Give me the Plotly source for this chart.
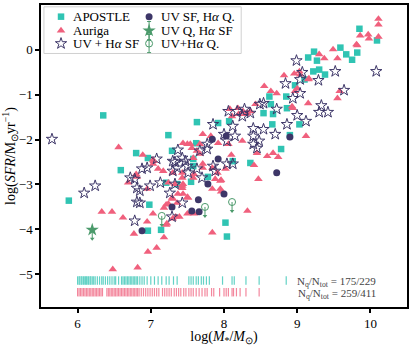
import plotly.graph_objects as go

# APOSTLE simulated galaxies: log stellar mass, log SFR
apostle_mass = [6.35, 7.24, 6.80, 6.96, 7.29, 7.63, 6.59, 5.88, 6.98, 7.14, 6.96, 7.36,
                7.55, 7.21, 8.36, 8.02, 8.04, 7.58, 7.58, 7.78, 7.62, 7.92, 8.07, 8.12,
                9.15, 9.23, 9.27, 9.59, 9.67, 9.75, 9.82, 9.22, 9.30, 9.38, 9.10, 8.97,
                8.85, 8.62, 8.64, 8.67, 8.66, 8.86, 9.03, 8.90, 8.78, 9.85, 10.09, 8.54]
apostle_sfr = [-1.46, -1.90, -2.30, -2.41, -2.25, -1.61, -2.68, -3.36, -3.45, -4.01, -4.03, -2.99,
               -2.94, -2.96, -2.52, -3.85, -4.16, -2.59, -2.43, -2.83, -2.08, -1.63, -1.59, -2.48,
               -0.17, -0.04, -0.24, 0.05, -0.10, -0.22, -0.06, -0.48, -0.44, -0.55, -0.66, -0.79,
               -1.04, -1.04, -1.21, -1.43, -1.66, -1.30, -1.66, -1.90, -2.21, 0.47, 0.21, -1.41]

# Auriga simulated galaxies
auriga_mass = [6.56, 6.89, 7.04, 7.10, 7.17, 7.54, 7.58, 7.71, 6.80, 6.69, 6.95, 6.33,
               6.47, 6.62, 6.95, 7.03, 7.18, 7.21, 7.30, 7.36, 7.22, 7.34, 6.77, 7.18,
               7.24, 6.82, 6.48, 6.96, 7.08, 7.21, 6.81, 7.29, 7.43, 7.43, 7.50, 7.50,
               7.03, 7.30, 7.39, 7.44, 7.51, 7.59, 7.84, 7.84, 7.95, 7.96, 8.32, 8.47,
               8.41, 8.59, 8.67, 8.74, 8.45, 7.91, 7.71, 7.44, 7.33, 7.63, 7.58, 8.10,
               7.96, 7.88, 7.30, 7.43, 7.44, 7.50, 7.56, 7.71, 7.82, 7.92, 8.06, 7.84,
               7.95, 7.37, 7.43, 7.24, 7.67, 8.02, 8.08, 8.11, 8.43, 8.19, 8.29, 8.25,
               8.55, 8.64, 8.72, 8.82, 8.96, 9.04, 9.16, 8.97, 8.93, 9.15, 9.12, 8.32,
               9.30, 9.37, 9.49, 9.55, 9.82, 9.58, 9.55, 10.11, 10.11, 9.86, 9.97, 9.98,
               10.11, 9.81, 9.15, 9.03, 9.00, 8.26, 8.94, 8.36, 7.03, 7.67, 7.59, 8.20]
auriga_sfr = [-2.17, -2.34, -2.48, -2.65, -2.70, -2.10, -2.41, -2.63, -2.77, -2.96, -3.10, -3.61,
              -3.61, -3.74, -3.83, -3.65, -3.52, -3.45, -3.32, -3.41, -3.87, -3.72, -4.10, -4.18,
              -2.96, -4.85, -4.89, -4.50, -4.41, -3.90, -2.83, -3.30, -3.08, -2.85, -3.28, -3.65,
              -2.54, -3.76, -3.72, -3.21, -3.30, -3.65, -4.07, -3.10, -3.10, -2.90, -3.59, -2.88,
              -2.57, -2.37, -2.30, -2.39, -2.30, -2.74, -2.54, -2.99, -2.99, -2.25, -2.85, -2.34,
              -3.16, -2.88, -2.74, -2.74, -2.08, -2.10, -2.19, -1.88, -1.92, -2.08, -2.10, -2.63,
              -2.92, -3.21, -3.03, -3.43, -2.32, -2.65, -1.32, -1.48, -1.21, -1.30, -1.43, -2.03,
              -0.81, -0.92, -0.97, -0.57, -0.53, -0.55, -0.64, -0.92, -1.26, -1.19, -1.92, -1.41,
              -0.10, -0.19, 0.01, -0.19, 0.10, -0.92, -1.08, 0.69, 0.56, 0.32, 0.34, 0.25,
              0.29, 0.12, -0.66, -0.48, -0.86, -1.37, -1.30, -1.37, -2.45, -2.10, -2.77, -1.43]

# observed: star forming in UV and H-alpha
uvha_sf_mass = [5.65, 6.09, 6.24, 6.78, 6.81, 6.85, 7.29, 7.08, 6.88, 6.95, 6.72, 6.78,
                6.81, 6.85, 6.99, 7.13, 7.26, 7.30, 7.33, 7.37, 7.43, 7.30, 7.43, 7.50,
                7.63, 7.51, 7.70, 7.33, 8.04, 8.12, 7.85, 7.85, 8.06, 7.88, 7.77, 7.47,
                8.15, 8.00, 8.28, 8.49, 8.40, 8.45, 7.77, 8.04, 8.99, 9.07, 9.04, 9.29,
                9.52, 9.64, 9.33, 9.42, 9.30, 9.12, 8.86, 9.00, 8.94, 9.04, 8.84, 8.54,
                8.72, 8.70, 8.54, 8.40, 8.40, 8.25, 8.36, 8.12, 10.08, 8.48, 8.18, 7.67,
                7.36]
uvha_sf_sfr = [-1.99, -3.19, -3.03, -3.81, -3.39, -3.41, -3.72, -2.43, -2.65, -2.63, -2.85, -2.88,
               -3.08, -3.14, -3.03, -2.96, -3.19, -2.70, -2.50, -2.23, -3.41, -2.48, -2.41, -2.59,
               -2.65, -2.74, -2.85, -2.99, -2.54, -2.54, -2.59, -1.66, -1.37, -2.70, -2.10, -2.48,
               -1.92, -1.88, -1.32, -1.21, -1.92, -2.19, -2.21, -2.03, -0.24, -0.50, -0.66, -0.68,
               -0.48, -0.90, -1.24, -1.39, -1.39, -1.59, -1.66, -1.46, -1.08, -0.97, -0.75, -1.19,
               -1.32, -1.88, -1.77, -1.75, -2.10, -1.48, -1.41, -1.70, -0.48, -2.03, -1.37, -2.25,
               -2.63]

# observed: UV star forming, H-alpha quenched
uvsf_haq_mass = [6.88, 7.29, 7.56, 7.66, 7.65, 7.78, 8.00, 7.92, 7.84, 8.03, 8.72, 8.90]
uvsf_haq_sfr = [-4.03, -3.50, -3.59, -3.61, -3.34, -2.99, -3.21, -2.43, -1.99, -1.92, -2.74, -1.94]

# observed: UV quenched, H-alpha star forming (upper limit)
uvq_hasf_mass = [6.20]
uvq_hasf_sfr = [-4.01]

# observed: quenched in both (upper limits)
uvha_q_mass = [7.15, 7.74, 8.11]
uvha_q_sfr = [-3.70, -3.50, -3.39]

# stellar masses of quenched simulated galaxies (rugs along the bottom)
apostle_q_mass = [6.00, 6.02, 6.03, 6.05, 6.06, 6.08, 6.09, 6.11, 6.12, 6.14, 6.15, 6.17,
                  6.18, 6.20, 6.22, 6.24, 6.27, 6.30, 6.33, 6.35, 6.38, 6.41, 6.44, 6.47,
                  6.50, 6.52, 6.56, 6.60, 6.62, 6.64, 6.66, 6.68, 6.70, 6.72, 6.74, 6.76,
                  6.78, 6.80, 6.82, 6.85, 6.88, 6.91, 6.95, 7.00, 7.05, 7.10, 7.15, 7.21,
                  7.25, 7.31, 7.36, 7.52, 7.55, 7.58, 7.62, 7.65, 7.69, 7.72, 7.76, 7.80,
                  7.98, 8.11, 8.14, 8.30, 8.48, 8.85]
auriga_q_mass = [6.00, 6.02, 6.04, 6.06, 6.08, 6.10, 6.12, 6.14, 6.16, 6.18, 6.20, 6.22,
                 6.24, 6.26, 6.28, 6.30, 6.32, 6.34, 6.40, 6.42, 6.44, 6.46, 6.48, 6.50,
                 6.52, 6.54, 6.56, 6.58, 6.60, 6.62, 6.64, 6.66, 6.68, 6.70, 6.72, 6.74,
                 6.76, 6.78, 6.80, 6.82, 6.84, 6.87, 6.90, 6.93, 6.96, 6.99, 7.02, 7.05,
                 7.08, 7.11, 7.16, 7.19, 7.22, 7.25, 7.28, 7.32, 7.35, 7.38, 7.41, 7.45,
                 7.48, 7.52, 7.55, 7.58, 7.62, 7.66, 7.70, 7.74, 7.77, 7.83, 7.86, 7.94,
                 8.00, 8.03, 8.06, 8.11, 8.13, 8.17, 8.22, 8.30, 8.48]

apostle_counts = (175, 229)
auriga_counts = (259, 411)

TEAL = "#30c4b3"
PINK = "#f0607d"
PURPLE = "#3d3668"
GREEN = "#4b9a6b"
FONT = "Liberation Serif"
LIMIT = 0.2  # length of upper-limit arrows in dex

# marker styles, shared by the data and the legend keys
styles = {
    "APOSTLE": dict(symbol="square", size=6.5, color=TEAL),
    "Auriga": dict(symbol="triangle-up", size=7.5, color=PINK),
    "UV + H<i>α</i> SF": dict(symbol="star-open", size=8.5, color=PURPLE, line=dict(width=1)),
    "UV SF, H<i>α</i> Q.": dict(symbol="circle", size=7, color=PURPLE),
    "UV Q, H<i>α</i> SF": dict(symbol="star", size=10, color=GREEN),
    "UV+H<i>α</i> Q.": dict(symbol="circle-open", size=7, color=GREEN, line=dict(width=1)),
}
limit_names = ["UV Q, H<i>α</i> SF", "UV+H<i>α</i> Q."]

fig = go.Figure()

series = [
    ("APOSTLE", apostle_mass, apostle_sfr),
    ("Auriga", auriga_mass, auriga_sfr),
    ("UV + H<i>α</i> SF", uvha_sf_mass, uvha_sf_sfr),
    ("UV SF, H<i>α</i> Q.", uvsf_haq_mass, uvsf_haq_sfr),
    ("UV Q, H<i>α</i> SF", uvq_hasf_mass, uvq_hasf_sfr),
    ("UV+H<i>α</i> Q.", uvha_q_mass, uvha_q_sfr),
]
for name, xs, ys in series:
    err = None
    if name in limit_names:
        err = dict(type="data", symmetric=False, array=[0] * len(xs),
                   arrayminus=[LIMIT] * len(xs), width=0, thickness=1, color=GREEN)
    fig.add_trace(go.Scatter(x=xs, y=ys, mode="markers", name=name, showlegend=False,
                             marker=styles[name], error_y=err))

# arrow heads of the upper limits
lim_mass = uvq_hasf_mass + uvha_q_mass
lim_tip = [s - LIMIT for s in uvq_hasf_sfr + uvha_q_sfr]
fig.add_trace(go.Scatter(
    x=lim_mass, y=lim_tip, mode="markers", showlegend=False, hoverinfo="skip",
    marker=dict(symbol="triangle-down", size=4, color=GREEN)
))

# rugs of quenched simulated galaxies
for masses, ypos, color in [(apostle_q_mass, -5.14, TEAL), (auriga_q_mass, -5.40, PINK)]:
    fig.add_trace(go.Scatter(
        x=masses, y=[ypos] * len(masses), mode="markers", showlegend=False, hoverinfo="skip",
        opacity=0.75, marker=dict(symbol="line-ns", size=6, line=dict(width=1.2, color=color))
    ))

for counts, ypos in [(apostle_counts, -5.18), (auriga_counts, -5.43)]:
    fig.add_annotation(
        x=10.1, y=ypos, xanchor="right", yanchor="middle", showarrow=False,
        text=f"N<sub>q</sub>/N<sub>tot</sub> = {counts[0]}/{counts[1]}",
        font=dict(family=FONT, size=11, color="#444444")
    )

# legend: frame, keys on a hidden overlay axis, labels as annotations
fig.add_shape(
    type="rect", xref="paper", yref="paper", x0=0.008, x1=0.547, y0=0.8395, y1=0.994,
    line=dict(color="#d0d0d0", width=1), fillcolor="white", layer="below"
)
legend_cols = [0.0547, 0.2953]
legend_rows = [0.9614, 0.9153, 0.8724]
legend_order = [["APOSTLE", "Auriga", "UV + H<i>α</i> SF"],
                ["UV SF, H<i>α</i> Q.", "UV Q, H<i>α</i> SF", "UV+H<i>α</i> Q."]]
for col, names in zip(legend_cols, legend_order):
    for row, name in zip(legend_rows, names):
        err = None
        if name in limit_names:
            err = dict(type="constant", value=0.03, width=2, thickness=1, color=GREEN)
        fig.add_trace(go.Scatter(x=[col], y=[row], xaxis="x2", yaxis="y2", mode="markers",
                                 showlegend=False, hoverinfo="skip", marker=styles[name],
                                 error_y=err))
        fig.add_annotation(x=col + 0.031, y=row, xref="paper", yref="paper",
                           xanchor="left", yanchor="middle", showarrow=False, text=name,
                           borderpad=0, font=dict(family=FONT, size=13, color="black"))

axis_common = dict(
    showline=True, linecolor="black", linewidth=1.5, mirror=True, showgrid=False,
    zeroline=False, ticks="outside", ticklen=4, tickwidth=1.5, tickcolor="black",
    tickfont=dict(family=FONT, size=13, color="black")
)

fig.update_layout(
    width=415, height=346,
    margin=dict(l=41, r=8, t=3, b=39),
    plot_bgcolor="white", paper_bgcolor="white",
    font=dict(family=FONT, color="black"),
    showlegend=False,
    xaxis=dict(range=[5.5, 10.5], tickvals=[6, 7, 8, 9, 10],
               title=dict(text="log(<i>M</i><sub>*</sub>/<i>M</i><sub>⊙</sub>)",
                          font=dict(family=FONT, size=14), standoff=0),
               **axis_common),
    yaxis=dict(range=[-5.73, 1.0], tickvals=[-5, -4, -3, -2, -1, 0],
               title=dict(text="log(<i>SFR</i>/M<sub>⊙</sub>yr<sup>−1</sup>)",
                          font=dict(family=FONT, size=14), standoff=0),
               **axis_common),
    xaxis2=dict(overlaying="x", range=[0, 1], visible=False),
    yaxis2=dict(overlaying="y", range=[0, 1], visible=False),
)

# drop the browser's default 8px page margin so the figure sits at the window corner
fig.write_html("out.html", config={"displayModeBar": False},
               post_script="document.body.style.margin = '0';")
